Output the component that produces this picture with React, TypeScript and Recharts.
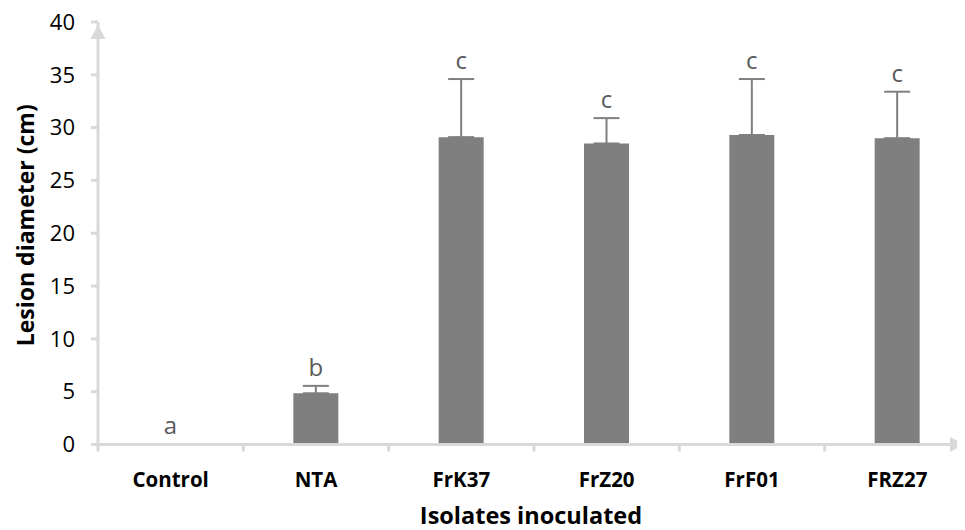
import React from 'react';
import { BarChart, Bar, XAxis, YAxis, ErrorBar, LabelList } from 'recharts';

const categories = ['Control', 'NTA', 'FrK37', 'FrZ20', 'FrF01', 'FRZ27'];
const lesionMeans = [0, 4.85, 29.1, 28.5, 29.3, 29.0];
const lesionErrors = [0, 0.7, 5.5, 2.4, 5.3, 4.4];
const groupLetters = ['a', 'b', 'c', 'c', 'c', 'c'];
const yTicks = [0, 5, 10, 15, 20, 25, 30, 35, 40];

const data = categories.map((name, i) => ({
  name,
  mean: lesionMeans[i],
  err: lesionErrors[i] > 0 ? [0, lesionErrors[i]] : 0,
  cap: lesionErrors[i],
  letter: groupLetters[i],
}));

const FONT = '"Open Sans", "DejaVu Sans", sans-serif';
const AXIS = '#d9d9d9';
const BAR = '#7f7f7f';

const CategoryTick = (props: any) => {
  const { x, y, payload } = props;
  const half = payload && typeof payload.offset === 'number' && payload.offset > 0 ? payload.offset : 72.67;
  return (
    <g>
      <line x1={x - half} x2={x - half} y1={y} y2={y + 7} stroke={AXIS} strokeWidth={3} />
      <text
        x={x}
        y={y + 42}
        textAnchor="middle"
        fontFamily={FONT}
        fontWeight={700}
        fontSize={20.5}
        fill="#000"
      >
        {payload.value}
      </text>
    </g>
  );
};

const YDecor = (props: any) => {
  const vb = props.viewBox || { x: 0, y: 14, width: 90, height: 422.5 };
  const ax = vb.x + vb.width;
  const cx = vb.x + 17;
  const cy = vb.y + vb.height / 2 - 8;
  return (
    <g>
      <polygon
        points={`${ax},${vb.y + 3} ${ax - 7.5},${vb.y + 17} ${ax + 7.5},${vb.y + 17}`}
        fill={AXIS}
      />
      <text
        x={cx}
        y={cy}
        transform={`rotate(-90, ${cx}, ${cy})`}
        textAnchor="middle"
        dominantBaseline="central"
        fontFamily={FONT}
        fontWeight={700}
        fontSize={23}
        fill="#000"
      >
        Lesion diameter (cm)
      </text>
    </g>
  );
};

const XDecor = (props: any) => {
  const vb = props.viewBox || { x: 90, y: 436.5, width: 872, height: 80 };
  const tip = vb.x + vb.width - 6;
  const ay = vb.y;
  return (
    <g>
      <polygon points={`${tip},${ay} ${tip - 14},${ay - 7.5} ${tip - 14},${ay + 7.5}`} fill={AXIS} />
      <text
        x={vb.x + vb.width / 2 - 3}
        y={vb.y + 79}
        textAnchor="middle"
        fontFamily={FONT}
        fontWeight={700}
        fontSize={23.5}
        fill="#000"
      >
        Isolates inoculated
      </text>
    </g>
  );
};

export default function App() {
  return (
    <div style={{ width: 957, height: 522, background: '#fff' }}>
      <BarChart
        width={957}
        height={522}
        data={data}
        margin={{ top: 14, right: -5, left: 0, bottom: 5.5 }}
        barCategoryGap={0}
      >
        <XAxis
          dataKey="name"
          height={80}
          tickLine={false}
          tickSize={0}
          tickMargin={0}
          axisLine={{ stroke: AXIS, strokeWidth: 3 }}
          tick={<CategoryTick />}
          interval={0}
          label={{ content: (p: any) => <XDecor {...p} /> }}
        />
        <YAxis
          width={90}
          domain={[0, 40]}
          ticks={yTicks}
          interval={0}
          allowDataOverflow
          tickSize={7}
          tickMargin={16}
          tickLine={{ stroke: AXIS, strokeWidth: 3 }}
          axisLine={{ stroke: AXIS, strokeWidth: 3 }}
          tick={{ fill: '#000', fontSize: 22, fontFamily: FONT }}
          label={{ content: (p: any) => <YDecor {...p} /> }}
        />
        <Bar dataKey="mean" stackId="s" fill={BAR} barSize={45} isAnimationActive={false}>
          <ErrorBar dataKey="err" width={13} stroke={BAR} strokeWidth={2} direction="y" />
        </Bar>
        <Bar
          dataKey="cap"
          stackId="s"
          fill="transparent"
          barSize={45}
          minPointSize={1}
          isAnimationActive={false}
        >
          <LabelList
            dataKey="letter"
            position="top"
            offset={10}
            fill="#595959"
            fontSize={24}
            fontFamily={FONT}
          />
        </Bar>
      </BarChart>
    </div>
  );
}
